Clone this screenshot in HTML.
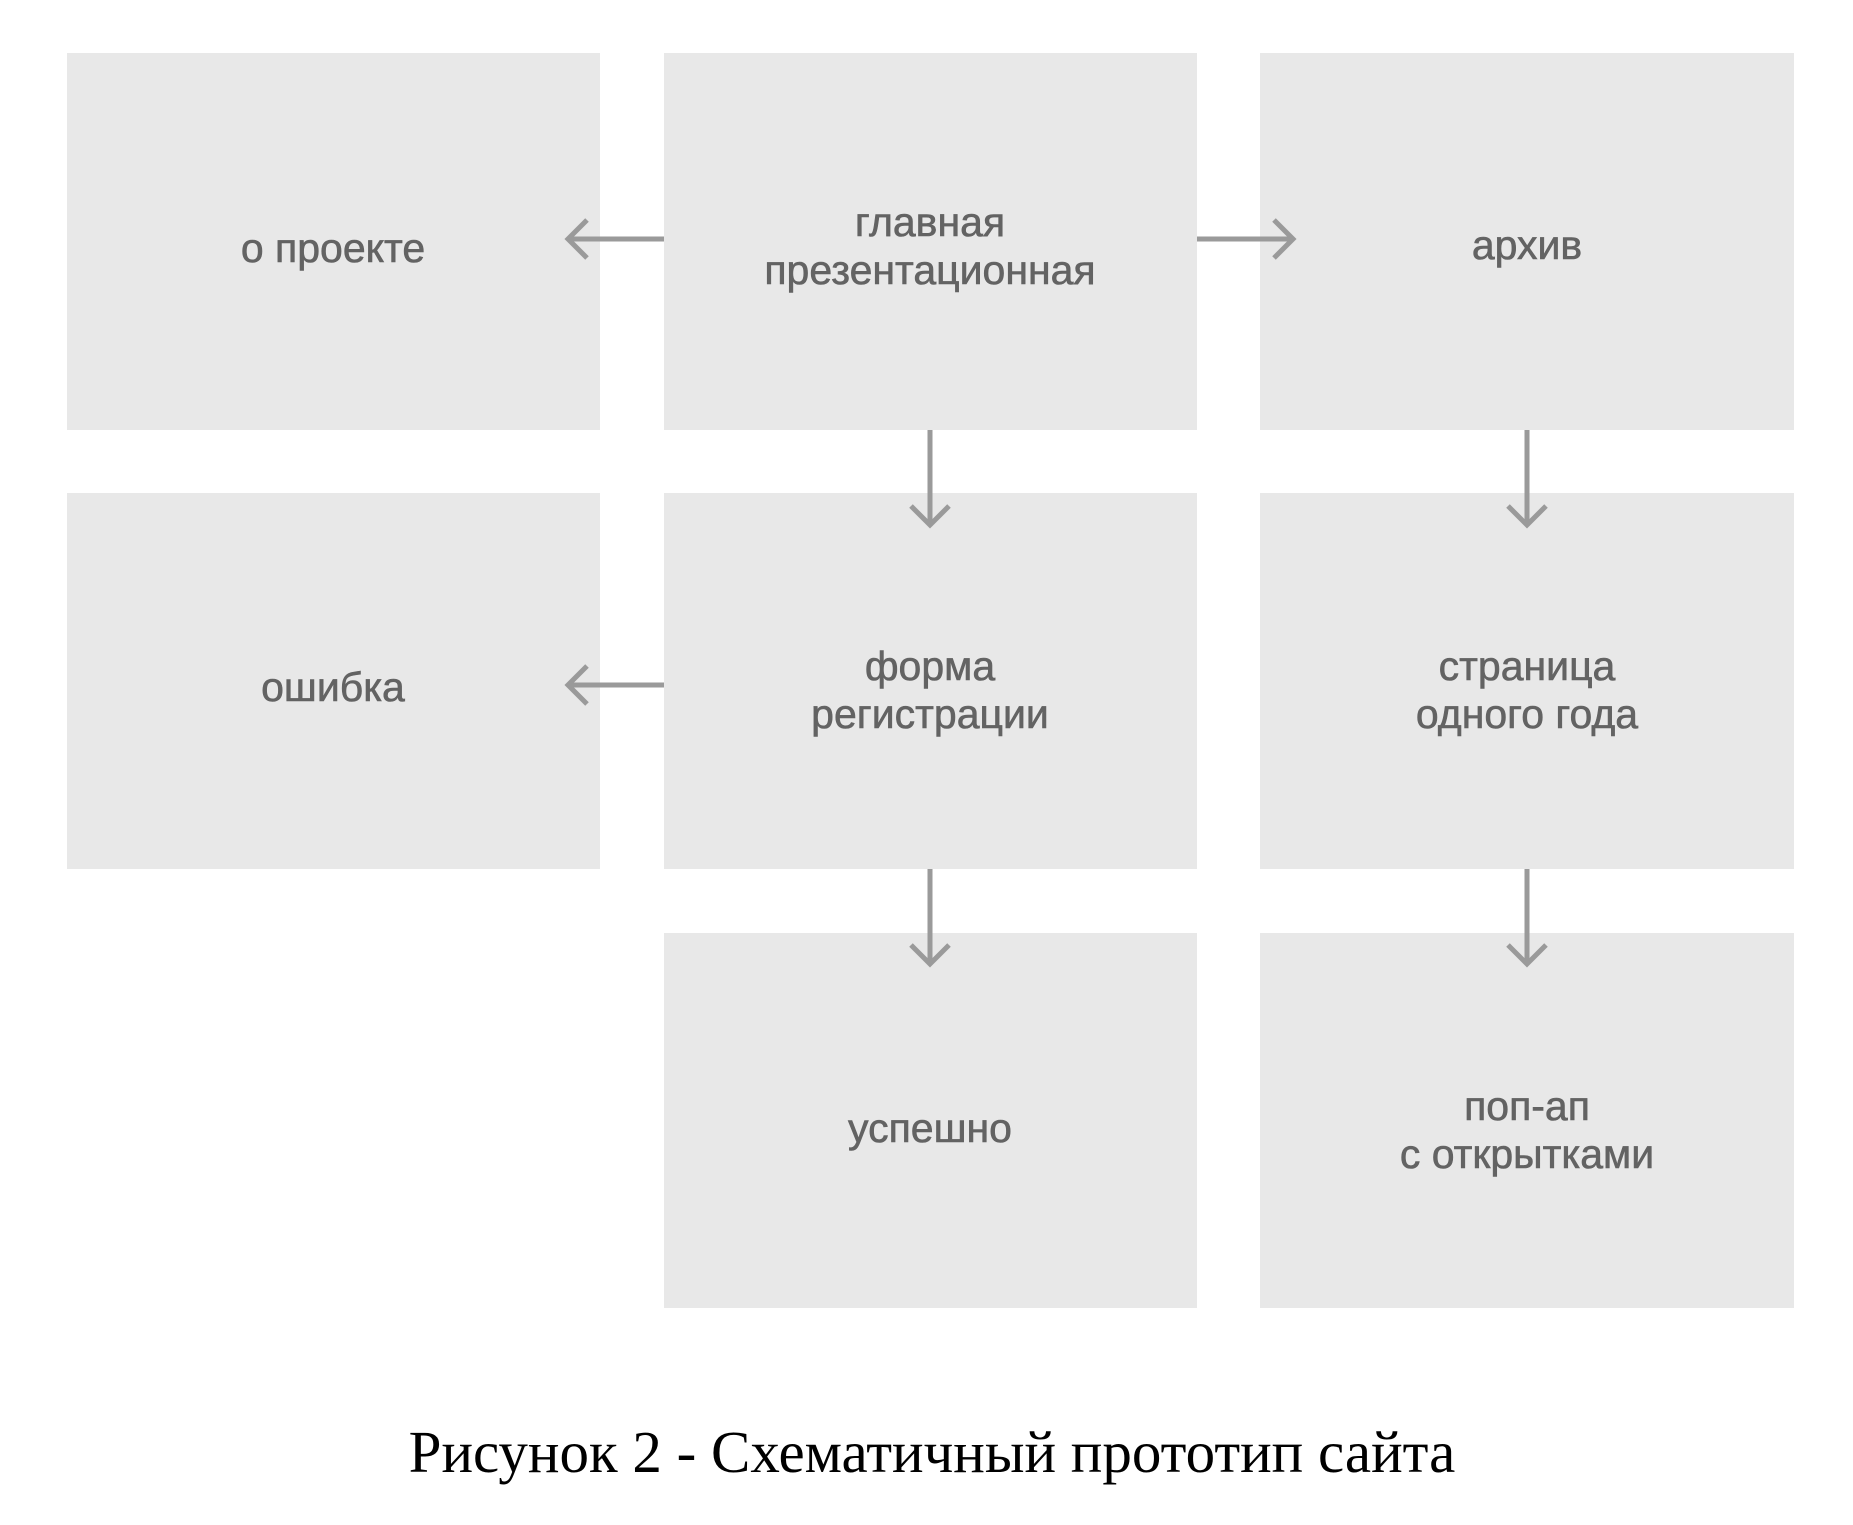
<!DOCTYPE html>
<html><head><meta charset="utf-8"><style>
html,body{margin:0;padding:0;background:#fff;}
svg{display:block}
</style></head><body>
<svg width="1853" height="1525" viewBox="0 0 1853 1525" xmlns="http://www.w3.org/2000/svg">
<g fill="#e8e8e8">
<rect x="67" y="53" width="533" height="377"/>
<rect x="664" y="53" width="533" height="377"/>
<rect x="1260" y="53" width="534" height="377"/>
<rect x="67" y="493" width="533" height="376"/>
<rect x="664" y="493" width="533" height="376"/>
<rect x="1260" y="493" width="534" height="376"/>
<rect x="664" y="933" width="533" height="375"/>
<rect x="1260" y="933" width="534" height="375"/>
</g>
<g stroke="#9a9a9a" stroke-width="5" fill="none" stroke-linecap="butt">
<line x1="664" y1="239" x2="568" y2="239"/><polyline points="587,220 568,239 587,258"/>
<line x1="1197" y1="239" x2="1293" y2="239"/><polyline points="1274,220 1293,239 1274,258"/>
<line x1="664" y1="685" x2="568" y2="685"/><polyline points="587,666 568,685 587,704"/>
<line x1="930" y1="430" x2="930" y2="525"/><polyline points="911,506 930,525 949,506"/>
<line x1="1527" y1="430" x2="1527" y2="525"/><polyline points="1508,506 1527,525 1546,506"/>
<line x1="930" y1="869" x2="930" y2="964"/><polyline points="911,945 930,964 949,945"/>
<line x1="1527" y1="869" x2="1527" y2="964"/><polyline points="1508,945 1527,964 1546,945"/>
</g>
<g fill="#636363" font-family="'Liberation Sans', sans-serif" font-size="41" text-anchor="middle" stroke="#636363" stroke-width="0.6">
<text x="333" y="262">о проекте</text>
<text x="930" y="236">главная</text>
<text x="930" y="284">презентационная</text>
<text x="1527" y="259">архив</text>
<text x="333" y="701">ошибка</text>
<text x="930" y="680">форма</text>
<text x="930" y="728">регистрации</text>
<text x="1527" y="680">страница</text>
<text x="1527" y="728">одного года</text>
<text x="930" y="1142">успешно</text>
<text x="1527" y="1120">поп-ап</text>
<text x="1527" y="1168">с открытками</text>
</g>
<text x="932" y="1472" fill="#000" font-family="'Liberation Serif', serif" font-size="59" text-anchor="middle">Рисунок 2 - Схематичный прототип сайта</text>
</svg>
</body></html>
